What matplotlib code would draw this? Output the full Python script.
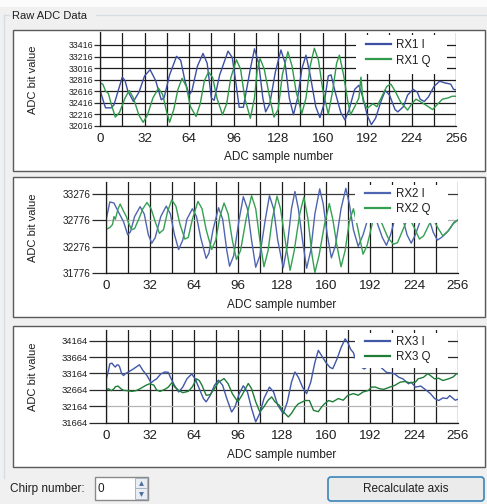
import matplotlib
matplotlib.use("Agg")
import matplotlib.pyplot as plt
from matplotlib.patches import Rectangle, FancyBboxPatch

plt.rcParams['font.family'] = ['Liberation Sans', 'DejaVu Sans']

# ---- data: (sample number, ADC value) ----
rx1_i = [(0, 32640), (3, 32400), (4, 32330), (8, 32330), (10, 32380), (16, 32860), (18, 32800),
         (20, 32620), (24, 32440), (28, 32600), (32, 32880), (36, 32990), (40, 32800), (44, 32470),
         (46, 32500), (50, 32900), (55, 33220), (58, 33150), (61, 32800), (64, 32550), (66, 32620),
         (70, 33050), (74, 33270), (77, 33100), (80, 32500), (82, 32460), (86, 32900), (92, 33310),
         (95, 33200), (98, 32700), (100, 32340), (103, 32340), (108, 33000), (111, 33350), (114, 33100),
         (117, 32500), (119, 32260), (122, 32400), (126, 32950), (130, 33330), (133, 33100), (136, 32500),
         (139, 32210), (142, 32500), (145, 33000), (148, 33240), (151, 32900), (155, 32350), (158, 32160),
         (161, 32400), (164, 32880), (166, 32900), (169, 32600), (173, 32250), (176, 32120), (179, 32300),
         (183, 32650), (186, 32720), (189, 32500), (192, 32200), (195, 32040), (198, 32150), (202, 32450),
         (205, 32630), (208, 32550), (212, 32300), (214, 32260), (218, 32350), (221, 32550), (225, 32650),
         (228, 32600), (230, 32480), (233, 32440), (236, 32520), (240, 32700), (244, 32790), (248, 32760),
         (252, 32740), (254, 32650), (256, 32640)]
rx1_q = [(0, 32760), (2, 32740), (4, 32620), (6, 32580), (8, 32400), (11, 32170), (14, 32250), (18, 32500),
         (21, 32630), (24, 32500), (28, 32200), (31, 32080), (34, 32200), (38, 32500), (42, 32670),
         (45, 32560), (48, 32250), (50, 32080), (53, 32300), (56, 32650), (59, 32840), (62, 32700),
         (65, 32350), (69, 32180), (72, 32400), (75, 32800), (78, 32950), (81, 32850), (84, 32500),
         (88, 32210), (91, 32400), (94, 32850), (98, 33160), (101, 33000), (104, 32500), (108, 32150),
         (111, 32500), (113, 33000), (115, 33180), (118, 33000), (122, 32500), (125, 32170), (128, 32300),
         (131, 32900), (135, 33300), (138, 33050), (141, 32600), (145, 32230), (148, 32500), (151, 33050),
         (154, 33360), (157, 33150), (160, 32650), (164, 32220), (167, 32600), (170, 33100), (172, 33240),
         (175, 32900), (178, 32450), (180, 32210), (183, 32350), (186, 32500), (187.5, 32860), (189, 32450),
         (192, 32320), (196, 32400), (199, 32350), (202, 32500), (206, 32700), (209, 32740), (212, 32620),
         (216, 32430), (221, 32290), (224, 32400), (227, 32480), (230, 32440), (234, 32380), (239, 32300),
         (242, 32380), (246, 32480), (250, 32500), (253, 32530), (256, 32530)]

rx2_i = [(0, 32760), (2, 33000), (3, 33130), (6, 33110), (9, 32950), (13, 32750), (16, 32500), (18, 32560),
         (21, 32850), (25, 33040), (28, 32900), (31, 32500), (33.5, 32340), (36, 32450), (40, 32850),
         (44, 33050), (47, 32900), (50, 32500), (53, 32220), (56, 32400), (59, 32800), (63, 33000),
         (66, 32850), (69, 32450), (73, 32050), (75, 32150), (78, 32600), (82, 33020), (85, 32800),
         (88, 32200), (90, 31900), (93, 32100), (97, 32800), (100, 33230), (103, 33000), (106, 32400),
         (109, 31880), (112, 32100), (116, 32800), (119, 33250), (122, 33000), (125, 32400), (129, 31870),
         (132, 32300), (135, 33000), (137.5, 33330), (140, 33000), (143, 32400), (146, 31860), (149, 32200),
         (152, 32900), (155.5, 33380), (158, 33100), (161, 32500), (164, 32060), (167, 32300), (171, 33000),
         (174.5, 33390), (177, 33100), (180, 32600), (183.5, 32280), (187, 32500), (191, 32850), (194, 32950),
         (197, 32750), (201, 32450), (204, 32300), (207, 32500), (210, 32800), (213, 32950), (216, 32800),
         (219, 32500), (222, 32340), (225, 32500), (229, 32800), (232, 32900), (235, 32800), (238, 32550),
         (241, 32400), (244, 32450), (248, 32550), (251, 32650), (253, 32740), (256, 32780)]
rx2_q = [(0, 32600), (3, 32640), (5, 32700), (6, 32850), (7, 32800), (9, 33000), (10.5, 33090), (13, 32950),
         (15, 32850), (17, 32700), (19, 32600), (21, 32620), (24, 32800), (27, 33000), (30, 33120),
         (33, 33000), (36, 32750), (39, 32530), (42, 32600), (45, 32950), (48, 33170), (51, 33050),
         (54, 32700), (57.5, 32420), (60, 32450), (63, 32800), (67, 33140), (70, 33000), (73, 32600),
         (77, 32220), (80, 32400), (83, 32850), (86, 33110), (89, 32900), (92, 32400), (95, 32030),
         (98, 32200), (102, 32800), (106, 33250), (109, 33000), (112, 32400), (115, 31890), (118, 32200),
         (121, 32800), (124.5, 33240), (127, 33000), (131, 32300), (134, 31820), (137, 32200), (141, 32900),
         (144, 33220), (147, 32800), (150, 32100), (152, 31780), (155, 32100), (159, 32700), (162.5, 33100),
         (165, 32800), (168, 32300), (171, 31890), (174, 32200), (177, 32750), (180, 33000), (183, 32650),
         (187, 32130), (190, 32300), (194, 32750), (197, 32900), (201, 32700), (205, 32450), (209, 32320),
         (212, 32350), (216, 32600), (220, 32850), (224, 32650), (228, 32420), (231, 32480), (235, 32700),
         (238, 32800), (241, 32650), (245, 32480), (249, 32580), (252, 32700), (256, 32790)]

rx3_i = [(0, 32930), (2, 33250), (3, 33460), (4.5, 33480), (6, 33400), (7, 33360), (8, 33420), (9, 33430),
         (10, 33380), (11.6, 33160), (13, 33100), (14, 33150), (16.5, 33210), (20, 33300), (24.5, 33430),
         (27, 33260), (30, 33100), (33, 32880), (35, 32950), (37, 33000), (40, 33150), (43, 33210),
         (45.5, 33200), (47, 33050), (50, 32800), (53, 32600), (56, 32750), (59, 33000), (62.5, 33150),
         (65, 33000), (68, 32700), (71, 32400), (73, 32300), (76, 32500), (79, 32800), (82, 32960),
         (85, 32800), (88, 32400), (91.5, 31990), (94, 32150), (97, 32550), (100, 32790), (103, 32600),
         (106, 32100), (109, 31690), (112, 31950), (115, 32400), (119, 32750), (122, 32600), (125, 32200),
         (129, 31940), (132, 32300), (135, 32900), (137.5, 33210), (140, 33050), (143, 32750), (146, 32550),
         (149, 32900), (152, 33500), (154.5, 33870), (157, 33700), (160, 33500), (163, 33350), (165, 33310),
         (168, 33600), (171, 33950), (174, 34220), (176, 34100), (178, 33900), (180, 33800), (181, 33660),
         (184, 33400), (188, 33300), (192, 33450), (196, 33500), (200, 33350), (204, 33200), (207, 33180),
         (210, 33150), (213, 33050), (216, 33000), (220, 32850), (222, 32900), (225, 32750), (229, 32780),
         (233, 32650), (236, 32550), (239, 32400), (242, 32340), (245, 32420), (248, 32400), (250, 32490),
         (252, 32420), (254, 32350), (256, 32380)]
rx3_q = [(0, 32650), (2, 32700), (4, 32640), (6, 32700), (7, 32760), (9, 32780), (11, 32700), (13, 32650),
         (16, 32640), (19, 32620), (22, 32640), (25, 32700), (27, 32750), (30, 32820), (32, 32850),
         (35, 32810), (37, 32660), (39.5, 32620), (43, 32680), (45.5, 32750), (48, 32880), (50, 32760),
         (53, 32650), (56, 32580), (60, 32620), (63, 32760), (66, 33000), (68, 32950), (70, 32800),
         (73, 32500), (76, 32520), (79, 32700), (82, 32900), (86, 33010), (89, 32850), (92, 32550),
         (96, 32300), (99, 32500), (103.6, 32860), (106, 32700), (109, 32300), (112, 31990), (115, 32150),
         (118, 32350), (120.6, 32450), (123, 32300), (126, 32200), (129, 32000), (132.7, 31840), (135, 31950),
         (138, 32150), (140, 32240), (145, 32340), (148, 32340), (151, 32040), (154.5, 32000), (157, 32150),
         (159, 32240), (162, 32340), (165, 32300), (169, 32400), (172.6, 32350), (176, 32500), (180, 32550),
         (183.5, 32500), (187, 32600), (191, 32650), (193, 32750), (196, 32750), (199, 32700), (202, 32680),
         (206.5, 32750), (210, 32800), (214, 32900), (217.5, 32920), (221, 32880), (225, 32900), (227, 33000),
         (231, 33050), (234, 33160), (236, 33100), (239, 33000), (242, 33020), (245, 32950), (249, 33000),
         (252.5, 33060), (255, 33160), (256, 33150)]

x_ticks = [0, 32, 64, 96, 128, 160, 192, 224, 256]
y_ticks_1 = [32016, 32216, 32416, 32616, 32816, 33016, 33216, 33416]
y_ticks_2 = [31776, 32276, 32776, 33276]
y_ticks_3 = [31664, 32164, 32664, 33164, 33664, 34164]
labels_1 = ['RX1 I', 'RX1 Q']
labels_2 = ['RX2 I', 'RX2 Q']
labels_3 = ['RX3 I', 'RX3 Q']

W, H = 487, 504
fig = plt.figure(figsize=(W / 100, H / 100), dpi=100, facecolor='#f0f0f0')

# background "window" drawn in pixel coordinates
bg = fig.add_axes([0, 0, 1, 1], zorder=0)
bg.set_xlim(0, W)
bg.set_ylim(H, 0)
bg.axis('off')
bg.add_patch(Rectangle((0, 0), W, 7, facecolor='#fcfcfc', edgecolor='none'))
bg.plot([4, 9], [15, 15], color='#d3dde3', lw=1)
bg.plot([96, W], [15, 15], color='#d3dde3', lw=1)
bg.plot([4, 4], [15, 478], color='#d3dde3', lw=1)
bg.text(12, 16, 'Raw ADC Data', fontsize=8, va='center', ha='left', color='#1e1e1e')
for top, bot in [(30, 171), (177, 316.5), (326, 466.5)]:
    bg.add_patch(Rectangle((12.5, top), 472, bot - top, facecolor='white', edgecolor='#5a5a5a', lw=1))

# chirp number spin box and button
bg.text(10, 489, 'Chirp number:', fontsize=8.5, va='center', ha='left', color='#1e1e1e')
bg.add_patch(Rectangle((94.5, 476.5), 53, 23, facecolor='white', edgecolor='#8a8a8a', lw=1))
bg.add_patch(Rectangle((134.5, 477.5), 12, 10.5, facecolor='#e9eef4', edgecolor='#a9b4c2', lw=0.7))
bg.add_patch(Rectangle((134.5, 488), 12, 10.5, facecolor='#e9eef4', edgecolor='#a9b4c2', lw=0.7))
bg.plot([140.5], [483], marker='^', ms=3.5, color='#4d6d9a', mew=0)
bg.plot([140.5], [493.5], marker='v', ms=3.5, color='#4d6d9a', mew=0)
bg.text(98, 488.5, '0', fontsize=8.5, va='center', ha='left', color='#1e1e1e')
bg.add_patch(FancyBboxPatch((328, 477), 156, 24, boxstyle='round,pad=0,rounding_size=3',
                            facecolor='#ebebeb', edgecolor='#3a86b8', lw=1.2))
bg.text(406, 489, 'Recalculate axis', fontsize=8.5, va='center', ha='center', color='#1e1e1e')


def px_axes(x0, x1, ytop, ybot):
    return fig.add_axes([x0 / W, 1 - ybot / H, (x1 - x0) / W, (ybot - ytop) / H], zorder=2)


def draw_panel(ax, series_i, series_q, labels, yticks, ylim, ycols, col_i, col_q,
               ylab_size, tick_len, box, leg_xy, ylab_x, xlab_y):
    ax.patch.set_visible(False)
    ax.set_axisbelow(True)
    xi, vi = zip(*series_i)
    xq, vq = zip(*series_q)
    l1, = ax.plot(xi, vi, color=col_i, lw=1.0, label=labels[0])
    l2, = ax.plot(xq, vq, color=col_q, lw=1.0, label=labels[1])
    ax.set_xlim(0, 256)
    ax.set_ylim(*ylim)
    ax.set_xticks(x_ticks)
    ax.set_xticks(range(0, 257, 16), minor=True)
    ax.set_yticks(yticks)
    ax.set_yticklabels([str(t) for t in yticks])
    ax.grid(axis='x', which='both', color='#1c1c1c', lw=0.9)
    ax.grid(axis='y', which='major', lw=0.9)
    for gl, c in zip(ax.get_ygridlines(), ycols):
        gl.set_color(c)
    for s in ['top', 'right']:
        ax.spines[s].set_visible(False)
    for s in ['left', 'bottom']:
        ax.spines[s].set_color('#1c1c1c')
        ax.spines[s].set_linewidth(0.9)
    ax.tick_params(axis='x', which='both', length=0, pad=5, labelsize=9.6, labelcolor='#1e1e1e')
    ax.tick_params(axis='y', length=tick_len, width=0.9, color='#2a2a2a', pad=1,
                   labelsize=ylab_size, labelcolor='#1e1e1e')
    ax.set_ylabel('ADC bit value', fontsize=8, color='#1e1e1e')
    ax.yaxis.set_label_coords(ylab_x, 0.5)
    ax.text(0.5, xlab_y, 'ADC sample number', transform=ax.transAxes, ha='center', va='center',
            fontsize=8.5, color='#1e1e1e')
    ax.add_patch(Rectangle((box[0], box[1]), box[2] - box[0], box[3] - box[1], transform=ax.transAxes,
                           facecolor='white', edgecolor='none', zorder=3, clip_on=False))
    leg = ax.legend(handles=[l1, l2], loc='upper left', bbox_to_anchor=leg_xy, frameon=False,
                    fontsize=8.3, handlelength=2.2, handletextpad=0.45, labelspacing=0.3,
                    borderpad=0, borderaxespad=0)
    leg.set_zorder(5)
    for ln in leg.get_lines():
        ln.set_linewidth(1.6)
    for t in leg.get_texts():
        t.set_color('#1e1e1e')


ax1 = px_axes(100, 456.3, 32.5, 126)
draw_panel(ax1, rx1_i, rx1_q, labels_1, y_ticks_1, (32016, 33632), ['#1c1c1c'] * 8,
           '#3c4fa3', '#2f9a4a', 6.3, 4, (0.718, 0.56, 0.974, 0.978), (0.746, 0.93), -0.174, -0.33)

ax2 = px_axes(105.7, 458, 182.3, 272.7)
draw_panel(ax2, rx2_i, rx2_q, labels_2, y_ticks_2, (31776, 33506),
           ['#2a2a2a', '#2a2a2a', '#b4b4b4', '#3a3a3a'],
           '#5065b0', '#35a052', 7.2, 10, (0.708, 0.55, 0.972, 0.97), (0.736, 0.94), -0.192, -0.357)

ax3 = px_axes(105.7, 458, 330, 422.7)
draw_panel(ax3, rx3_i, rx3_q, labels_3, y_ticks_3, (31664, 34490),
           ['#2a2a2a', '#b4b4b4', '#2a2a2a', '#4a4a4a', '#2a2a2a', '#2a2a2a'],
           '#4157a8', '#1f7d38', 6.8, 12, (0.708, 0.59, 0.972, 0.968), (0.736, 0.935), -0.192, -0.348)

fig.savefig('out.png', dpi=100, facecolor=fig.get_facecolor())
